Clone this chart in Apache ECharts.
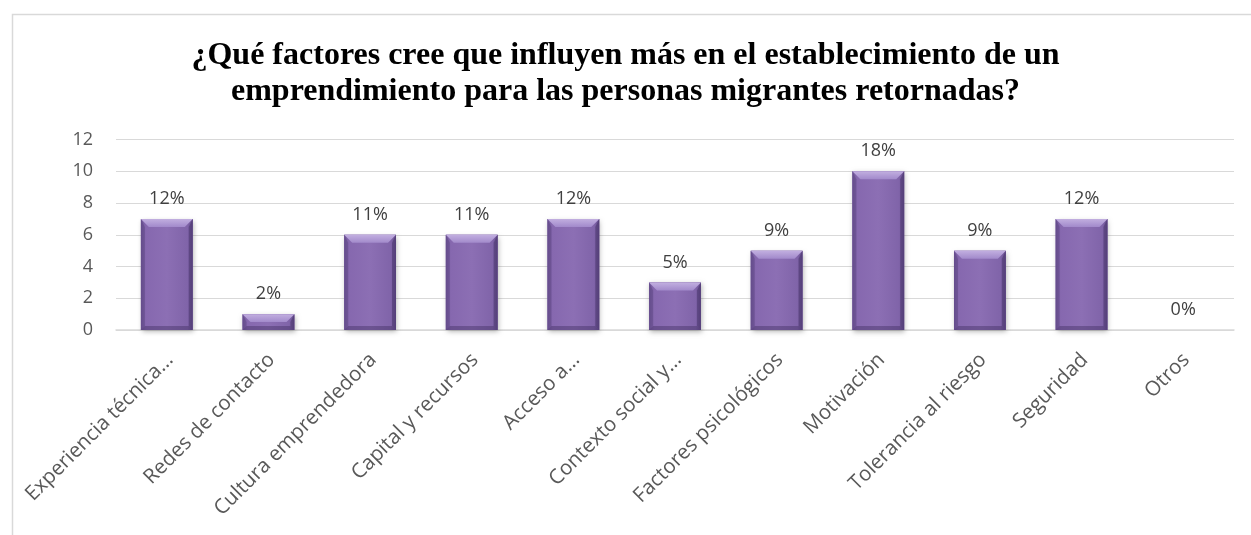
<!DOCTYPE html>
<html>
<head>
<meta charset="utf-8">
<script src="https://cdn.jsdelivr.net/npm/echarts@6/dist/echarts.min.js"></script>
<style>
html,body{margin:0;padding:0;background:#fff;}
#chart{width:1251px;height:535px;}
</style>
</head>
<body>
<div id="chart"></div>
<script>
const titleText = "¿Qué factores cree que influyen más en el establecimiento de un\nemprendimiento para las personas migrantes retornadas?";
const categories = ["Experiencia técnica...", "Redes de contacto", "Cultura emprendedora", "Capital y recursos", "Acceso a...", "Contexto social y...", "Factores psicológicos", "Motivación", "Tolerancia al riesgo", "Seguridad", "Otros"];
const values = [7, 1, 6, 6, 7, 3, 5, 10, 5, 7, 0];
const percentLabels = ["12%", "2%", "11%", "11%", "12%", "5%", "9%", "18%", "9%", "12%", "0%"];
const yTicks = [0, 2, 4, 6, 8, 10, 12];

const chart = echarts.init(document.getElementById('chart'), null, {renderer: 'canvas'});
const G = echarts.graphic;

function renderBar(params, api) {
  const idx = params.dataIndex;
  const xv = api.value(0), v = api.value(1);
  const top = api.coord([xv, v]);
  const base = api.coord([xv, 0]);
  const bw = api.size([1, 0])[0] * 0.51;
  const x0 = top[0] - bw / 2, x1 = top[0] + bw / 2;
  const y0 = top[1], y1 = base[1];
  const h = y1 - y0;
  const children = [];
  if (h > 0.5) {
    const b = Math.min(8, h / 2);
    const s = Math.min(4, h / 3);
    children.push({type: 'rect', shape: {x: x0, y: y0, width: bw, height: h},
      style: {fill: '#8567ad', shadowColor: 'rgba(0,0,0,0.3)', shadowBlur: 5, shadowOffsetX: 1, shadowOffsetY: 2}});
    children.push({type: 'rect', shape: {x: x0, y: y0, width: bw, height: h},
      style: {fill: new G.LinearGradient(0, 0, 1, 0, [
        {offset: 0, color: '#73599b'}, {offset: 0.1, color: '#8668af'},
        {offset: 0.5, color: '#8c6fb4'}, {offset: 0.9, color: '#8064a9'}, {offset: 1, color: '#674e8e'}])}});
    children.push({type: 'polygon', shape: {points: [[x0, y0], [x1, y0], [x1 - b, y0 + b], [x0 + b, y0 + b]]},
      style: {fill: new G.LinearGradient(0, 0, 0, 1, [{offset: 0, color: '#c2afe0'}, {offset: 1, color: '#a28acb'}])}});
    children.push({type: 'polygon', shape: {points: [[x0, y0], [x0 + s, y0 + b], [x0 + s, y1 - s], [x0, y1]]},
      style: {fill: 'rgba(70,50,105,0.3)'}});
    children.push({type: 'polygon', shape: {points: [[x1, y0], [x1 - s, y0 + b], [x1 - s, y1 - s], [x1, y1]]},
      style: {fill: 'rgba(60,42,92,0.42)'}});
    children.push({type: 'polygon', shape: {points: [[x0, y1], [x0 + s, y1 - s], [x1 - s, y1 - s], [x1, y1]]},
      style: {fill: 'rgba(60,42,92,0.4)'}});
  }
  children.push({type: 'text', style: {text: percentLabels[idx], x: top[0], y: y0 - 11,
    align: 'center', verticalAlign: 'bottom', font: '18px "Open Sans"', fill: '#404040'}});
  return {type: 'group', children: children};
}

chart.setOption({
  animation: false,
  graphic: [{
    type: 'rect', left: 10, top: 12,
    shape: {width: 1300, height: 600},
    style: {fill: 'none', stroke: '#d9d9d9', lineWidth: 1.5},
    silent: true
  }],
  title: {
    text: titleText,
    left: 'center', top: 33,
    textStyle: {fontFamily: 'Liberation Serif', fontWeight: 'bold', fontSize: 32, lineHeight: 36, color: '#000'}
  },
  grid: {left: 116, right: 17, top: 139.5, bottom: 205},
  xAxis: {
    type: 'category',
    data: categories,
    axisTick: {show: false},
    axisLine: {lineStyle: {color: '#d9d9d9', width: 1.5}},
    axisLabel: {rotate: 45, interval: 0, margin: 15, verticalAlign: 'top', padding: [0, 6, 0, 0], fontFamily: 'Open Sans', fontSize: 20.5, color: '#595959'}
  },
  yAxis: {
    type: 'value', min: yTicks[0], max: yTicks[yTicks.length - 1], interval: 2,
    axisLine: {show: false}, axisTick: {show: false},
    splitLine: {lineStyle: {color: '#d9d9d9', width: 1.2}},
    axisLabel: {margin: 23, fontFamily: 'Open Sans', fontSize: 18, color: '#595959'}
  },
  series: [{
    type: 'custom',
    renderItem: renderBar,
    encode: {x: 0, y: 1},
    data: values.map((v, i) => [i, v])
  }]
});
</script>
</body>
</html>
